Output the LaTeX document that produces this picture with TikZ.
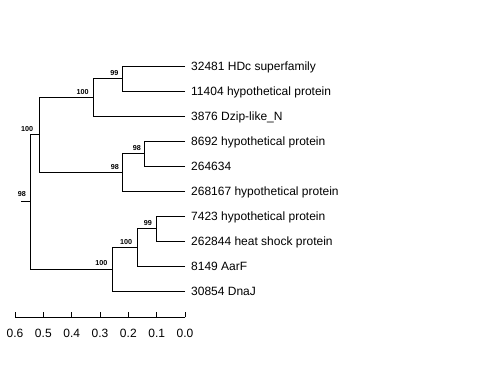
\documentclass[tikz,border=0pt]{standalone}
\usepackage{fontspec}
\setmainfont{Liberation Sans}
\begin{document}
\begin{tikzpicture}[x=1bp,y=-1bp,
  br/.style={line width=0.9bp, black},
  tiplab/.style={anchor=base west, inner sep=0pt, font=\fontsize{12bp}{14bp}\selectfont},
  boot/.style={anchor=east, inner sep=0pt, font=\fontsize{7.2bp}{8bp}\selectfont\bfseries},
  axlab/.style={anchor=center, inner sep=0pt, font=\fontsize{12bp}{14bp}\selectfont}]
\useasboundingbox (0,0) rectangle (480,384);
% tips
\foreach \i/\y in {1/66,2/91,3/116,4/141,5/166,6/191,7/216,8/241,9/266,10/291}
  \coordinate (e\i) at (185,\y);
\node[tiplab] (L1) at (191,70.3) {32481 HDc superfamily};
\node[tiplab] (L2) at (191,95.3) {11404 hypothetical protein};
\node[tiplab] (L3) at (191,120.3) {3876 Dzip-like\_N};
\node[tiplab] (L4) at (191,145.3) {8692 hypothetical protein};
\node[tiplab] (L5) at (191,170.3) {264634};
\node[tiplab] (L6) at (191,195.3) {268167 hypothetical protein};
\node[tiplab] (L7) at (191,220.3) {7423 hypothetical protein};
\node[tiplab] (L8) at (191,245.3) {262844 heat shock protein};
\node[tiplab] (L9) at (191,270.3) {8149 AarF};
\node[tiplab] (L10) at (191,295.3) {30854 DnaJ};
% internal nodes
\coordinate (a) at (122.7,78.5);
\coordinate (b) at (93.3,97.25);
\coordinate (c) at (144,153.5);
\coordinate (d) at (122.7,172.25);
\coordinate (e) at (39,134.75);
\coordinate (f) at (156,228.5);
\coordinate (g) at (137,247.25);
\coordinate (h) at (112.7,269.1);
\coordinate (r) at (30.7,201.9);
\coordinate (rs) at (20.7,201.9);
% branches
\draw[br] (e1) -| (a);
\draw[br] (e2) -| (a);
\draw[br] (a) -| (b);
\draw[br] (e3) -| (b);
\draw[br] (e4) -| (c);
\draw[br] (e5) -| (c);
\draw[br] (c) -| (d);
\draw[br] (e6) -| (d);
\draw[br] (b) -| (e);
\draw[br] (d) -| (e);
\draw[br] (e7) -| (f);
\draw[br] (e8) -| (f);
\draw[br] (f) -| (g);
\draw[br] (e9) -| (g);
\draw[br] (g) -| (h);
\draw[br] (e10) -| (h);
\draw[br] (e) -| (r);
\draw[br] (h) -| (r);
\draw[br] (r) -- (rs);
% bootstrap labels
\node[boot] (ba) at ([shift={(-4,-5.5)}]a) {99};
\node[boot] (bb) at ([shift={(-4.5,-5.5)}]b) {100};
\node[boot] (bc) at ([shift={(-3,-5.5)}]c) {98};
\node[boot] (bd) at ([shift={(-3.7,-5.5)}]d) {98};
\node[boot] (be) at ([shift={(-5.7,-5.5)}]e) {100};
\node[boot] (bf) at ([shift={(-4,-5.5)}]f) {99};
\node[boot] (bg) at ([shift={(-4.7,-5.5)}]g) {100};
\node[boot] (bh) at ([shift={(-5,-6.5)}]h) {100};
\node[boot] (br) at ([shift={(-4.7,-7.5)}]r) {98};
% axis
\coordinate (ax0) at (185,317.3);
\coordinate (ax6) at (15,317.3);
\draw[br] (ax0) -- (ax6);
\foreach \v/\t in {0/0.0,1/0.1,2/0.2,3/0.3,4/0.4,5/0.5,6/0.6}{
  \draw[br] (185-28.333*\v,317.3) -- (185-28.333*\v,312.3);
  \node[axlab] (tk\v) at (185-28.333*\v,333.3) {\t};
}
\end{tikzpicture}
\end{document}
